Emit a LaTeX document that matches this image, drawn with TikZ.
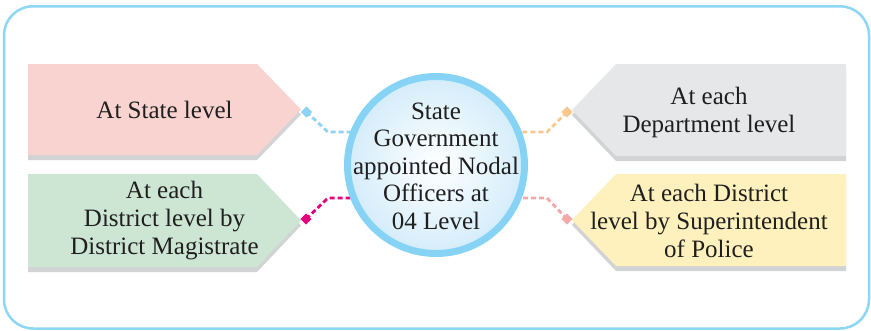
\documentclass[tikz,border=0pt]{standalone}
\usepackage{fontspec}
\setmainfont{Liberation Serif}
\usetikzlibrary{shapes.geometric}
\definecolor{frameblue}{HTML}{8DD6F5}
\definecolor{ringblue}{HTML}{87D3F5}
\definecolor{pinkbox}{HTML}{F9D3D0}
\definecolor{greenbox}{HTML}{CDE6D4}
\definecolor{graybox}{HTML}{E6E7E8}
\definecolor{yellowbox}{HTML}{FFF1BD}
\definecolor{shadowgray}{HTML}{D1D3D4}
\definecolor{lnblue}{HTML}{8DD3F3}
\definecolor{lnmagenta}{HTML}{E5007D}
\definecolor{lnpeach}{HTML}{FDC68D}
\definecolor{lnpink}{HTML}{F4A9A8}
\definecolor{innerblue}{HTML}{D4EDFA}
\tikzset{
  x=1pt, y=-1pt,
  boxtext/.style={align=center, font=\fontsize{25}{28}\selectfont, text=black!88, inner sep=0pt},
  connector/.style={line width=2.8pt, dash pattern=on 5pt off 3pt},
  dot/.style={diamond, fill=#1, minimum size=11pt, inner sep=0pt},
  shadowshape/.style={fill=shadowgray}
}
\begin{document}
\begin{tikzpicture}
\useasboundingbox (0,0) rectangle (871,330);
% frame
\draw[frameblue, line width=2.5pt, rounded corners=29pt] (4,6.3) rectangle (869,328.5);

% left shapes
\foreach \t/\b/\c in {64/155/pinkbox, 174/267/greenbox}{
  \pgfmathsetmacro{\m}{(\t+\b)/2}
  \fill[shadowgray] (28,\t+5) -- (257,\t+5) -- (301,\m+5) -- (257,\b+5) -- (28,\b+5) -- cycle;
  \fill[\c] (28,\t) -- (257,\t) -- (301,\m) -- (257,\b) -- (28,\b) -- cycle;
}
% right shapes
\foreach \t/\b/\c in {64/156/graybox, 174/266/yellowbox}{
  \pgfmathsetmacro{\m}{(\t+\b)/2}
  \fill[shadowgray] (846,\t+5) -- (616,\t+5) -- (572,\m+5) -- (616,\b+5) -- (846,\b+5) -- cycle;
  \fill[\c] (846,\t) -- (616,\t) -- (572,\m) -- (616,\b) -- (846,\b) -- cycle;
}

% texts
\node[boxtext] (state) at (164.5,110) {At State level};
\node[boxtext] (district) at (164.5,221) {At each\\District level by\\District Magistrate};
\node[boxtext] (dept) at (709,112) {At each\\Department level};
\node[boxtext] (police) at (709,221) {At each District\\level by Superintendent\\of Police};

% connectors
\coordinate (cc) at (436,165);
\node[dot=lnblue] (d1) at (306.5,112) {};
\node[dot=lnmagenta] (d2) at (306,219) {};
\node[dot=lnpeach] (d3) at (567,112) {};
\node[dot=lnpink] (d4) at (567,219) {};
\coordinate (k1) at (328,132);
\coordinate (k2) at (328,198);
\coordinate (k3) at (547,132);
\coordinate (k4) at (547,198);
\draw[connector, lnblue] (d1.center) -- (k1) -- (k1 -| cc);
\draw[connector, lnmagenta] (d2.center) -- (k2) -- (k2 -| cc);
\draw[connector, lnpeach] (d3.center) -- (k3) -- (k3 -| cc);
\draw[connector, lnpink] (d4.center) -- (k4) -- (k4 -| cc);
\node[dot=lnblue] at (d1) {};
\node[dot=lnmagenta] at (d2) {};
\node[dot=lnpeach] at (d3) {};
\node[dot=lnpink] at (d4) {};

% central circle
\node[circle, minimum size=177pt, inner sep=0pt, line width=7pt, draw=ringblue,
      inner color=white, outer color=innerblue] (c) at (cc) {};
\node[boxtext, font=\fontsize{25}{27.5}\selectfont] (ctext) at (436,166) {State\\Government\\appointed Nodal\\Officers at\\04 Level};
\end{tikzpicture}
\end{document}
